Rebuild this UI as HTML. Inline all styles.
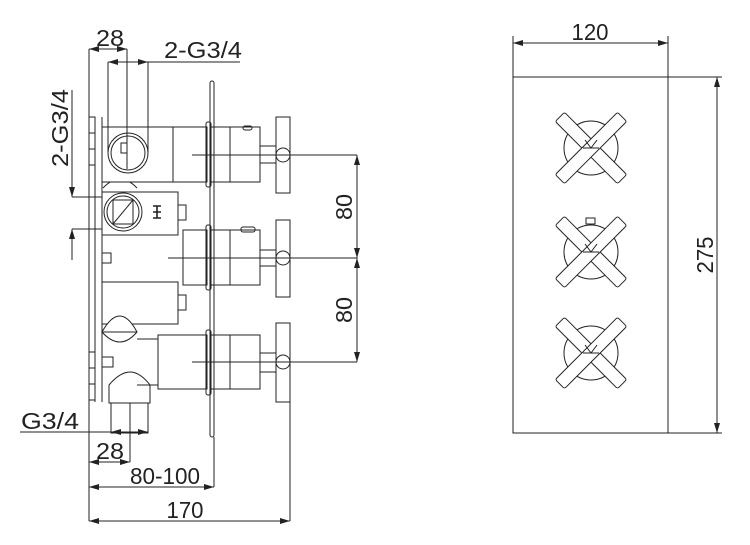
<!DOCTYPE html>
<html><head><meta charset="utf-8"><style>html,body{margin:0;padding:0;background:#fff}svg{display:block}</style></head>
<body>
<svg width="750" height="545" viewBox="0 0 750 545" xmlns="http://www.w3.org/2000/svg">
<defs>
<marker id="a" viewBox="0 0 10 6" refX="10" refY="3" markerWidth="10" markerHeight="6" orient="auto-start-reverse" markerUnits="userSpaceOnUse"><path d="M0,0 L10,3 L0,6z" fill="#222"/></marker>
</defs>
<g stroke="#222" stroke-width="1" fill="none">
<!-- RIGHT VIEW -->
<rect x="513" y="77" width="155" height="356"/>
<line x1="513" y1="77" x2="513" y2="36"/>
<line x1="668" y1="77" x2="668" y2="36"/>
<line x1="513" y1="43" x2="668" y2="43" marker-start="url(#a)" marker-end="url(#a)"/>
<line x1="668" y1="77" x2="722" y2="77"/>
<line x1="668" y1="433" x2="722" y2="433"/>
<line x1="717" y1="77" x2="717" y2="433" marker-start="url(#a)" marker-end="url(#a)"/>
<g id="x1" transform="translate(591,148)">
<circle r="27"/>
<g fill="#fff">
<rect x="-44" y="-6.5" width="88" height="13" rx="2" transform="rotate(45)"/>
<rect x="-44" y="-6.5" width="88" height="13" rx="2" transform="rotate(-45)"/>
</g>
<line x1="-6" y1="-8" x2="0" y2="0"/><line x1="6" y1="-8" x2="0" y2="0"/><line x1="-8" y1="0" x2="8" y2="0"/>
</g>
<use href="#x1" transform="translate(0,104)"/>
<use href="#x1" transform="translate(0,205)"/>
<rect x="586" y="218" width="9" height="6" fill="#fff"/>

<!-- LEFT VIEW -->
<line x1="89" y1="49" x2="89" y2="521"/>
<line x1="95" y1="117" x2="95" y2="402"/>
<line x1="102" y1="117" x2="102" y2="402"/>
<rect x="89" y="117" width="6" height="48"/>
<rect x="89" y="352" width="6" height="48"/>
<line x1="89" y1="133" x2="95" y2="133"/><line x1="89" y1="149" x2="95" y2="149"/>
<line x1="89" y1="368" x2="95" y2="368"/><line x1="89" y1="384" x2="95" y2="384"/>
<rect x="210" y="81" width="4" height="356" rx="2"/>

<!-- top valve -->
<path d="M103,188 Q120,170 137,188"/>
<rect x="102" y="127" width="105" height="55" fill="#fff"/>
<line x1="173" y1="127" x2="173" y2="182"/>
<rect x="206" y="122" width="5" height="65" rx="2"/>
<rect x="211" y="127" width="49" height="55"/>
<line x1="230" y1="127" x2="230" y2="182"/>
<rect x="243" y="126" width="9" height="4" rx="2"/>
<rect x="260" y="146" width="16" height="17"/>
<rect x="276" y="117" width="14" height="76"/>
<circle cx="283" cy="155" r="7" fill="#fff"/>
<circle cx="128" cy="153" r="20" fill="#fff"/><circle cx="128" cy="153" r="17"/>
<line x1="127" y1="137" x2="127" y2="169"/>
<rect x="121" y="143" width="6" height="10"/>
<line x1="192" y1="155" x2="357" y2="155"/>

<rect x="102" y="192" width="76" height="43" fill="#fff"/>
<circle cx="123" cy="212" r="19" fill="#fff"/><circle cx="123" cy="212" r="16"/>
<rect x="113" y="200" width="20" height="24"/>
<line x1="113" y1="224" x2="133" y2="200"/>
<path d="M153,206 h8 M153,218 h8 M157,206 v12 M153,212 h8" stroke-width="1.6"/>
<rect x="178" y="205" width="8" height="15"/>
<rect x="183" y="230" width="24" height="55"/>
<rect x="206" y="225" width="5" height="65" rx="2"/>
<rect x="211" y="230" width="49" height="55"/>
<line x1="230" y1="230" x2="230" y2="285"/>
<rect x="241" y="227" width="14" height="5" rx="2"/>
<rect x="260" y="250" width="16" height="16"/>
<rect x="276" y="220" width="14" height="77"/>
<circle cx="283" cy="258" r="7" fill="#fff"/>
<line x1="168" y1="258" x2="357" y2="258"/>
<rect x="102" y="253" width="9" height="10"/>

<rect x="102" y="282" width="76" height="42"/>
<rect x="178" y="295" width="8" height="15"/>
<path d="M102,332 Q120,300 137,332 Q120,352 102,332" fill="#fff"/>
<line x1="102" y1="332" x2="137" y2="332"/>
<line x1="137" y1="339" x2="158" y2="339"/>
<line x1="137" y1="385" x2="158" y2="385"/>
<rect x="158" y="335" width="49" height="54"/>
<rect x="206" y="330" width="5" height="65" rx="2"/>
<rect x="211" y="335" width="49" height="54"/>
<line x1="230" y1="335" x2="230" y2="389"/>
<rect x="260" y="353" width="16" height="19"/>
<rect x="276" y="323" width="14" height="79"/>
<circle cx="283" cy="362" r="7" fill="#fff"/>
<line x1="192" y1="362" x2="357" y2="362"/>
<rect x="102" y="357" width="11" height="10"/>
<path d="M109,403 V385 Q120,372 130,372 Q140,372 150,385 V403 Z"/>
<rect x="111" y="403" width="37" height="30"/>
<line x1="130" y1="403" x2="130" y2="462"/>

<line x1="357" y1="155" x2="357" y2="258" marker-start="url(#a)" marker-end="url(#a)"/>
<line x1="357" y1="258" x2="357" y2="362" marker-start="url(#a)" marker-end="url(#a)"/>
<line x1="127" y1="49" x2="127" y2="153"/>
<line x1="89" y1="49" x2="127" y2="49" marker-start="url(#a)" marker-end="url(#a)"/>
<line x1="108" y1="62" x2="108" y2="153"/>
<line x1="148" y1="62" x2="148" y2="153"/>
<line x1="108" y1="62" x2="148" y2="62" marker-start="url(#a)" marker-end="url(#a)"/>
<line x1="148" y1="62" x2="240" y2="62"/>
<line x1="72" y1="197" x2="102" y2="197"/>
<line x1="72" y1="229" x2="102" y2="229"/>
<line x1="72" y1="90" x2="72" y2="197" marker-end="url(#a)"/>
<line x1="72" y1="260" x2="72" y2="229" marker-end="url(#a)"/>
<line x1="20" y1="432" x2="148" y2="432"/>
<line x1="111" y1="432" x2="148" y2="432" marker-start="url(#a)" marker-end="url(#a)"/>
<line x1="89" y1="462" x2="130" y2="462" marker-start="url(#a)" marker-end="url(#a)"/>
<line x1="214" y1="437" x2="214" y2="487"/>
<line x1="89" y1="487" x2="214" y2="487" marker-start="url(#a)" marker-end="url(#a)"/>
<line x1="290" y1="402" x2="290" y2="521"/>
<line x1="89" y1="521" x2="290" y2="521" marker-start="url(#a)" marker-end="url(#a)"/>
</g>
<g font-family="'Liberation Sans', sans-serif" font-size="23" fill="#222" text-anchor="middle">
<text x="110" y="46" textLength="28" lengthAdjust="spacingAndGlyphs">28</text>
<text x="203" y="58" textLength="78" lengthAdjust="spacingAndGlyphs">2-G3/4</text>
<text transform="translate(68,128) rotate(-90)" textLength="78" lengthAdjust="spacingAndGlyphs">2-G3/4</text>
<text transform="translate(352,207) rotate(-90)" textLength="26" lengthAdjust="spacingAndGlyphs">80</text>
<text transform="translate(352,310) rotate(-90)" textLength="26" lengthAdjust="spacingAndGlyphs">80</text>
<text x="50" y="429" textLength="58" lengthAdjust="spacingAndGlyphs">G3/4</text>
<text x="110" y="459" textLength="28" lengthAdjust="spacingAndGlyphs">28</text>
<text x="165" y="484" textLength="70" lengthAdjust="spacingAndGlyphs">80-100</text>
<text x="185" y="518" textLength="37" lengthAdjust="spacingAndGlyphs">170</text>
<text x="590" y="40" textLength="37" lengthAdjust="spacingAndGlyphs">120</text>
<text transform="translate(713,255) rotate(-90)" textLength="37" lengthAdjust="spacingAndGlyphs">275</text>
</g>
</svg>
</body></html>
